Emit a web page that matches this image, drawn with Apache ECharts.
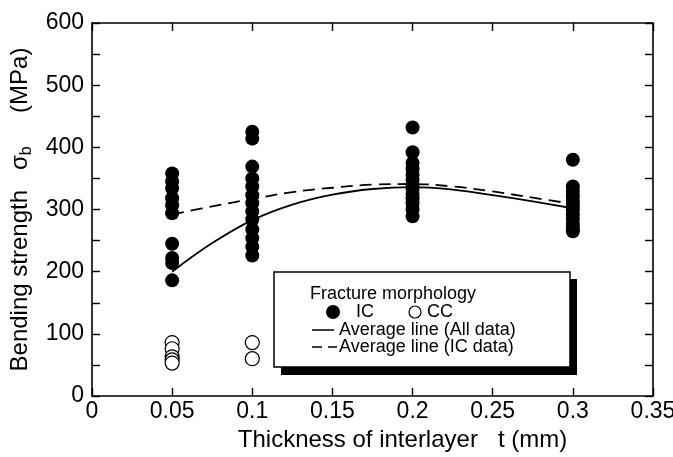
<!DOCTYPE html>
<html>
<head>
<meta charset="utf-8">
<script src="https://cdn.jsdelivr.net/npm/echarts@6/dist/echarts.min.js"></script>
<style>html,body{margin:0;padding:0;background:#fff}#c{width:673px;height:457px}</style>
</head>
<body>
<div id="c"></div>
<script>
// Thickness categories (mm)
const thickness = [0.05, 0.1, 0.2, 0.3];
// IC bending strength values (MPa) per thickness
const icAt005 = [358, 345, 334, 318, 307, 294, 245, 222, 214, 186];
const icAt010 = [425, 414, 369, 350, 337, 323, 310, 297, 284, 268, 254, 240, 226];
const icAt020 = [432, 392, 375, 365, 356, 348, 340, 333, 325, 318, 310, 300, 289];
const icAt030 = [380, 337, 329, 321, 314, 307, 300, 292, 285, 277, 270, 265];
// CC values (MPa)
const ccAt005 = [86, 76, 63, 58, 53];
const ccAt010 = [86, 60];
// Average curves
const curveX = [0.05, 0.075, 0.1, 0.125, 0.15, 0.175, 0.2, 0.225, 0.25, 0.275, 0.3];
const avgAll = [200, 246, 283, 308, 324, 333, 336, 332, 323, 313, 302];
const avgIC = [292, 305, 317, 328, 335, 340, 341, 337, 329, 319, 309];
// Tick settings
const xTicks = {min: 0, max: 0.35, interval: 0.05};
const yTicks = {min: 0, max: 600, interval: 100};

const pairs = (xs, ys) => ys.map((v, i) => [xs[i], v]);
const icData = [].concat(
  icAt005.map(v => [thickness[0], v]),
  icAt010.map(v => [thickness[1], v]),
  icAt020.map(v => [thickness[2], v]),
  icAt030.map(v => [thickness[3], v])
);
const ccData = [].concat(
  ccAt005.map(v => [thickness[0], v]),
  ccAt010.map(v => [thickness[1], v])
);

const FONT = 'Liberation Sans, Arial, sans-serif';
const axisLine = {show: true, onZero: false, lineStyle: {color: '#000', width: 1.6}};
const tick = {show: true, inside: true, length: 8, lineStyle: {color: '#000', width: 1.4}};
const minor = {show: true, splitNumber: 2, length: 8, lineStyle: {color: '#000', width: 1.4}};

const chart = echarts.init(document.getElementById('c'), null, {renderer: 'canvas'});
chart.setOption({
  animation: false,
  backgroundColor: '#fff',
  grid: {left: 92, top: 23, right: 20, bottom: 61, containLabel: false, outerBoundsMode: 'none'},
  xAxis: [{
    type: 'value', min: xTicks.min, max: xTicks.max, interval: xTicks.interval,
    axisLine: axisLine, axisTick: tick, splitLine: {show: false},
    axisLabel: {color: '#000', fontSize: 23, fontFamily: FONT, margin: 4,
      formatter: v => String(+v.toFixed(2))},
    name: 'Thickness of interlayer   t (mm)', nameLocation: 'middle', nameGap: 30,
    nameTextStyle: {color: '#000', fontSize: 24, fontFamily: FONT, padding: [0, 0, 0, 60]}
  }, {
    type: 'value', position: 'top', min: xTicks.min, max: xTicks.max, interval: xTicks.interval,
    axisLine: axisLine, axisTick: tick, axisLabel: {show: false}, splitLine: {show: false}
  }],
  yAxis: [{
    type: 'value', min: yTicks.min, max: yTicks.max, interval: yTicks.interval,
    axisLine: axisLine, axisTick: tick, minorTick: minor, splitLine: {show: false},
    axisLabel: {color: '#000', fontSize: 23, fontFamily: FONT, margin: 8},
    name: '{a|Bending strength   σ}{s|b}{a|     (MPa)}', nameLocation: 'middle', nameGap: 54, nameRotate: 90,
    nameTextStyle: {color: '#000', fontFamily: FONT, rich: {
      a: {fontSize: 24, fontFamily: FONT, color: '#000', lineHeight: 30},
      s: {fontSize: 16, fontFamily: FONT, color: '#000', lineHeight: 30, padding: [13, 0, 0, 0]}
    }}
  }, {
    type: 'value', position: 'right', min: yTicks.min, max: yTicks.max, interval: yTicks.interval,
    axisLine: axisLine, axisTick: tick, minorTick: minor,
    axisLabel: {show: false}, splitLine: {show: false}
  }],
  series: [{
    type: 'line', data: pairs(curveX, avgAll), smooth: 0.4, showSymbol: false, z: 3,
    lineStyle: {color: '#000', width: 1.8}
  }, {
    type: 'line', data: pairs(curveX, avgIC), smooth: 0.4, showSymbol: false, z: 3,
    lineStyle: {color: '#000', width: 1.8, type: [12, 7]}
  }, {
    type: 'scatter', data: icData, symbol: 'circle', symbolSize: 14, z: 4,
    itemStyle: {color: '#000', opacity: 1}
  }, {
    type: 'scatter', data: ccData, symbol: 'circle', symbolSize: 14, z: 4,
    itemStyle: {color: '#fff', borderColor: '#000', borderWidth: 1.2, opacity: 1}
  }],
  graphic: [
    {type: 'rect', shape: {x: 281, y: 279, width: 296, height: 96}, style: {fill: '#000'}, z: 10},
    {type: 'rect', shape: {x: 274, y: 272, width: 296, height: 95}, style: {fill: '#fff', stroke: '#000', lineWidth: 1.5}, z: 11},
    {type: 'text', x: 310, y: 285, style: {text: 'Fracture morphology', fontSize: 18, fontFamily: FONT, fill: '#000'}, z: 12},
    {type: 'circle', shape: {cx: 333, cy: 312, r: 7}, style: {fill: '#000'}, z: 12},
    {type: 'text', x: 356, y: 303, style: {text: 'IC', fontSize: 18, fontFamily: FONT, fill: '#000'}, z: 12},
    {type: 'circle', shape: {cx: 415, cy: 312, r: 6}, style: {fill: '#fff', stroke: '#000', lineWidth: 1.2}, z: 12},
    {type: 'text', x: 427, y: 303, style: {text: 'CC', fontSize: 18, fontFamily: FONT, fill: '#000'}, z: 12},
    {type: 'line', shape: {x1: 312, y1: 330, x2: 334, y2: 330}, style: {stroke: '#000', lineWidth: 1.5}, z: 12},
    {type: 'text', x: 339, y: 321, style: {text: 'Average line (All data)', fontSize: 18, fontFamily: FONT, fill: '#000'}, z: 12},
    {type: 'line', shape: {x1: 312, y1: 347, x2: 337, y2: 347}, style: {stroke: '#000', lineWidth: 1.5, lineDash: [10, 6]}, z: 12},
    {type: 'text', x: 339, y: 338, style: {text: 'Average line (IC data)', fontSize: 18, fontFamily: FONT, fill: '#000'}, z: 12}
  ]
});
</script>
</body>
</html>
